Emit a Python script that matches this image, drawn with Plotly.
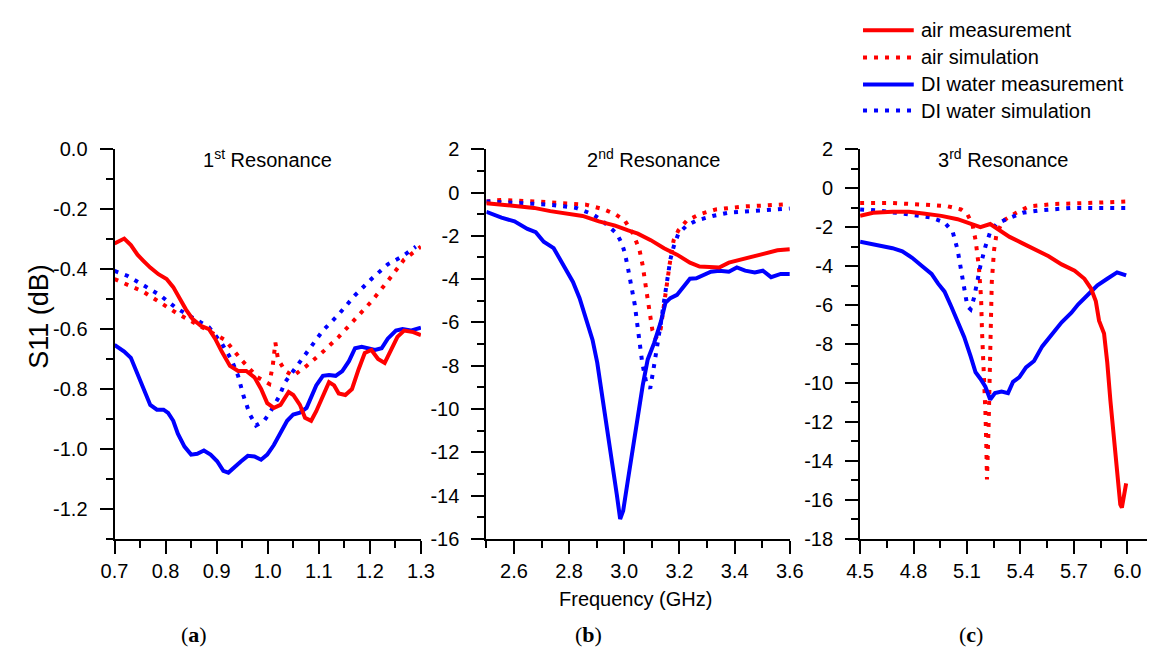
import plotly.graph_objects as go

W, H = 1161, 662
RED = "#ff0000"
BLUE = "#0000ff"
FONT = "Arial, Liberation Sans, sans-serif"

# ---------------- 1st resonance (GHz, dB) ----------------
a_air_meas_x = [0.700, 0.719, 0.732, 0.745, 0.757, 0.770, 0.786, 0.802, 0.815, 0.827,
                0.840, 0.853, 0.869, 0.885, 0.897, 0.910, 0.926, 0.942, 0.958, 0.974,
                0.987, 0.999, 1.012, 1.025, 1.041, 1.050, 1.063, 1.073, 1.085, 1.095,
                1.108, 1.120, 1.130, 1.139, 1.152, 1.165, 1.178, 1.190, 1.203, 1.216,
                1.229, 1.241, 1.254, 1.267, 1.285, 1.300]
a_air_meas_y = [-0.314, -0.298, -0.320, -0.352, -0.373, -0.395, -0.417, -0.433, -0.460, -0.497,
                -0.535, -0.567, -0.589, -0.600, -0.632, -0.675, -0.723, -0.740, -0.740, -0.761,
                -0.800, -0.847, -0.863, -0.853, -0.810, -0.820, -0.853, -0.896, -0.906, -0.874,
                -0.820, -0.777, -0.788, -0.815, -0.820, -0.800, -0.734, -0.680, -0.670, -0.700,
                -0.713, -0.670, -0.626, -0.605, -0.610, -0.620]

a_air_sim_x = [0.700, 0.757, 0.821, 0.885, 0.917, 0.948, 0.980, 1.003, 1.010, 1.015,
               1.020, 1.034, 1.050, 1.076, 1.108, 1.139, 1.171, 1.203, 1.235, 1.267, 1.300]
a_air_sim_y = [-0.433, -0.476, -0.546, -0.605, -0.637, -0.702, -0.761, -0.783, -0.720, -0.645,
               -0.700, -0.740, -0.756, -0.723, -0.676, -0.626, -0.567, -0.508, -0.440, -0.368, -0.325]

a_water_meas_x = [0.700, 0.719, 0.732, 0.741, 0.751, 0.761, 0.770, 0.783, 0.796, 0.805,
                  0.815, 0.824, 0.837, 0.850, 0.862, 0.875, 0.888, 0.901, 0.913, 0.923,
                  0.936, 0.948, 0.961, 0.974, 0.987, 0.999, 1.012, 1.025, 1.038, 1.050,
                  1.063, 1.076, 1.085, 1.095, 1.108, 1.120, 1.133, 1.146, 1.159, 1.171,
                  1.184, 1.197, 1.210, 1.223, 1.235, 1.251, 1.264, 1.280, 1.300]
a_water_meas_y = [-0.653, -0.675, -0.696, -0.734, -0.777, -0.820, -0.853, -0.869, -0.869, -0.880,
                  -0.906, -0.949, -0.992, -1.019, -1.016, -1.005, -1.019, -1.041, -1.073, -1.079,
                  -1.057, -1.041, -1.023, -1.025, -1.036, -1.019, -0.987, -0.944, -0.906, -0.885,
                  -0.879, -0.863, -0.831, -0.788, -0.756, -0.753, -0.756, -0.740, -0.707, -0.664,
                  -0.659, -0.664, -0.670, -0.664, -0.632, -0.605, -0.600, -0.605, -0.595]

a_water_sim_x = [0.700, 0.725, 0.757, 0.789, 0.821, 0.853, 0.885, 0.910, 0.929, 0.942,
                 0.952, 0.965, 0.977, 0.993, 1.006, 1.022, 1.034, 1.050, 1.076, 1.108,
                 1.139, 1.171, 1.203, 1.235, 1.264, 1.290]
a_water_sim_y = [-0.406, -0.422, -0.454, -0.487, -0.530, -0.562, -0.594, -0.648, -0.702, -0.756,
                 -0.820, -0.885, -0.922, -0.906, -0.874, -0.826, -0.777, -0.740, -0.680, -0.605,
                 -0.551, -0.487, -0.433, -0.384, -0.357, -0.325]

# ---------------- 2nd resonance ----------------
b_air_meas_x = [2.500, 2.555, 2.614, 2.673, 2.732, 2.791, 2.849, 2.908, 2.967, 3.014,
                3.049, 3.096, 3.144, 3.191, 3.238, 3.273, 3.308, 3.344, 3.379, 3.426,
                3.473, 3.520, 3.555, 3.600]
b_air_meas_y = [-0.49, -0.56, -0.64, -0.71, -0.86, -0.96, -1.08, -1.33, -1.53, -1.75,
                -1.90, -2.20, -2.57, -2.87, -3.24, -3.42, -3.42, -3.46, -3.24, -3.09,
                -2.94, -2.76, -2.67, -2.62]

b_air_sim_x = [2.500, 2.555, 2.673, 2.791, 2.861, 2.926, 2.967, 3.002, 3.032, 3.055,
               3.067, 3.079, 3.091, 3.102, 3.114, 3.132, 3.144, 3.155, 3.167, 3.179,
               3.196, 3.226, 3.273, 3.332, 3.438, 3.520, 3.600]
b_air_sim_y = [-0.41, -0.34, -0.41, -0.49, -0.56, -0.78, -1.00, -1.30, -1.90, -2.64,
               -3.39, -4.43, -5.47, -6.37, -6.74, -6.30, -5.18, -4.13, -3.09, -2.20,
               -1.75, -1.30, -1.00, -0.78, -0.64, -0.59, -0.53]

b_water_meas_x = [2.500, 2.555, 2.602, 2.649, 2.679, 2.708, 2.744, 2.779, 2.814, 2.838,
                  2.861, 2.885, 2.902, 2.920, 2.938, 2.955, 2.973, 2.985, 2.996, 3.014,
                  3.032, 3.049, 3.067, 3.085, 3.108, 3.132, 3.149, 3.167, 3.191, 3.214,
                  3.238, 3.261, 3.285, 3.314, 3.344, 3.379, 3.408, 3.438, 3.473, 3.502,
                  3.532, 3.567, 3.600]
b_water_meas_y = [-0.89, -1.16, -1.33, -1.68, -1.83, -2.27, -2.57, -3.31, -4.13, -4.88,
                  -5.77, -6.81, -7.86, -9.34, -10.83, -12.32, -13.96, -15.08, -14.70, -13.21,
                  -11.73, -10.24, -8.90, -7.71, -6.96, -6.00, -5.10, -4.88, -4.73, -4.36,
                  -3.98, -3.96, -3.84, -3.66, -3.61, -3.66, -3.46, -3.61, -3.69, -3.61,
                  -3.91, -3.76, -3.76]

b_water_sim_x = [2.500, 2.614, 2.732, 2.826, 2.885, 2.920, 2.949, 2.973, 2.991, 3.002,
                 3.014, 3.026, 3.038, 3.047, 3.055, 3.065, 3.079, 3.094, 3.106, 3.118,
                 3.132, 3.144, 3.155, 3.167, 3.179, 3.196, 3.226, 3.261, 3.320, 3.379,
                 3.496, 3.600]
b_water_sim_y = [-0.41, -0.49, -0.56, -0.71, -1.00, -1.30, -1.60, -1.90, -2.35, -2.79,
                 -3.54, -4.28, -5.18, -6.07, -6.96, -7.86, -8.75, -9.05, -8.15, -7.26,
                 -6.07, -5.03, -3.98, -3.09, -2.50, -1.90, -1.53, -1.30, -1.08, -0.93,
                 -0.83, -0.74]

# ---------------- 3rd resonance ----------------
c_air_meas_x = [4.500, 4.573, 4.682, 4.774, 4.865, 4.956, 5.047, 5.120, 5.175, 5.230,
                5.285, 5.339, 5.412, 5.485, 5.558, 5.631, 5.704, 5.759, 5.796, 5.823,
                5.841, 5.869, 5.887, 5.905, 5.923, 5.942, 5.960, 5.969, 5.982, 5.993]
c_air_meas_y = [-1.42, -1.26, -1.21, -1.21, -1.31, -1.42, -1.59, -1.80, -2.00, -1.84,
                -2.17, -2.50, -2.83, -3.16, -3.49, -3.91, -4.24, -4.65, -5.15, -5.81,
                -6.80, -7.46, -8.95, -10.94, -12.76, -14.74, -16.23, -16.40, -15.73, -15.15]

c_air_sim_x = [4.500, 4.682, 4.865, 4.993, 5.066, 5.102, 5.130, 5.148, 5.166, 5.179,
               5.184, 5.193, 5.203, 5.208, 5.212, 5.221, 5.226, 5.230, 5.239, 5.252,
               5.266, 5.303, 5.376, 5.449, 5.595, 5.777, 6.000]
c_air_sim_y = [-0.76, -0.76, -0.85, -0.93, -1.09, -1.34, -1.84, -2.67, -3.99, -5.64,
               -7.30, -8.95, -11.43, -13.09, -14.95, -12.26, -9.78, -7.30, -4.82, -3.16,
               -2.33, -1.67, -1.26, -0.93, -0.81, -0.76, -0.68]

c_water_meas_x = [4.500, 4.591, 4.682, 4.737, 4.792, 4.847, 4.901, 4.938, 4.974, 5.011,
                  5.047, 5.084, 5.120, 5.148, 5.175, 5.203, 5.230, 5.257, 5.294, 5.330,
                  5.358, 5.394, 5.431, 5.476, 5.522, 5.577, 5.631, 5.686, 5.723, 5.777,
                  5.832, 5.887, 5.942, 5.993]
c_water_meas_y = [-2.75, -2.91, -3.08, -3.24, -3.57, -3.99, -4.40, -4.90, -5.31, -6.06,
                  -6.80, -7.63, -8.62, -9.45, -9.78, -10.19, -10.85, -10.52, -10.44, -10.52,
                  -9.94, -9.70, -9.20, -8.87, -8.12, -7.46, -6.88, -6.39, -5.97, -5.48,
                  -4.98, -4.65, -4.32, -4.48]

c_water_sim_x = [4.500, 4.591, 4.774, 4.901, 4.974, 5.020, 5.047, 5.066, 5.084, 5.102,
                 5.120, 5.139, 5.157, 5.175, 5.203, 5.230, 5.266, 5.321, 5.412, 5.504,
                 5.686, 6.000]
c_water_sim_y = [-1.09, -1.14, -1.34, -1.51, -1.76, -2.25, -3.16, -4.15, -5.15, -6.06,
                 -6.22, -5.64, -4.82, -3.99, -3.00, -2.25, -1.84, -1.59, -1.26, -1.14,
                 -1.01, -1.01]

# ---------------- axis ticks ----------------
a_xticks = [0.7, 0.8, 0.9, 1.0, 1.1, 1.2, 1.3]
a_yticks = [0.0, -0.2, -0.4, -0.6, -0.8, -1.0, -1.2]
b_xticks = [2.6, 2.8, 3.0, 3.2, 3.4, 3.6]
b_yticks = [2, 0, -2, -4, -6, -8, -10, -12, -14, -16]
c_xticks = [4.5, 4.8, 5.1, 5.4, 5.7, 6.0]
c_yticks = [2, 0, -2, -4, -6, -8, -10, -12, -14, -16, -18]

legend_labels = ["air measurement", "air simulation",
                 "DI water measurement", "DI water simulation"]
panel_titles = ["1<sup>st</sup> Resonance", "2<sup>nd</sup> Resonance", "3<sup>rd</sup> Resonance"]
panel_tags = ["(<b>a</b>)", "(<b>b</b>)", "(<b>c</b>)"]


def px_x(p):
    return p / W


def px_y(p):
    return 1 - p / H


SOLID = dict(width=4)
DOT = dict(width=4, dash="4px,7px")

fig = go.Figure()

panels = [
    ("x", "y", a_air_meas_x, a_air_meas_y, a_air_sim_x, a_air_sim_y,
     a_water_meas_x, a_water_meas_y, a_water_sim_x, a_water_sim_y),
    ("x2", "y2", b_air_meas_x, b_air_meas_y, b_air_sim_x, b_air_sim_y,
     b_water_meas_x, b_water_meas_y, b_water_sim_x, b_water_sim_y),
    ("x3", "y3", c_air_meas_x, c_air_meas_y, c_air_sim_x, c_air_sim_y,
     c_water_meas_x, c_water_meas_y, c_water_sim_x, c_water_sim_y),
]

for xa, ya, amx, amy, asx, asy, wmx, wmy, wsx, wsy in panels:
    fig.add_trace(go.Scatter(x=asx, y=asy, mode="lines", xaxis=xa, yaxis=ya,
                             line=dict(color=RED, **DOT), showlegend=False))
    fig.add_trace(go.Scatter(x=wsx, y=wsy, mode="lines", xaxis=xa, yaxis=ya,
                             line=dict(color=BLUE, **DOT), showlegend=False))
    fig.add_trace(go.Scatter(x=wmx, y=wmy, mode="lines", xaxis=xa, yaxis=ya,
                             line=dict(color=BLUE, **SOLID), showlegend=False))
    fig.add_trace(go.Scatter(x=amx, y=amy, mode="lines", xaxis=xa, yaxis=ya,
                             line=dict(color=RED, **SOLID), showlegend=False))

ydom = [px_y(546), px_y(143)]
tickfont = dict(family=FONT, size=20, color="black")


def axis_common():
    return dict(showline=True, linecolor="black", linewidth=2, mirror=False,
                showgrid=False, zeroline=False, ticks="outside", ticklen=13,
                tickwidth=2, tickcolor="black", tickfont=tickfont)


def minor_ticks(tick0, dtick):
    return dict(tickmode="linear", tick0=tick0, dtick=dtick, ticks="outside",
                ticklen=7, tickwidth=2, tickcolor="black")


def fmt(v, nd):
    return f"{v:.{nd}f}"


fig.update_layout(
    width=W, height=H, margin=dict(l=0, r=0, t=0, b=0),
    paper_bgcolor="white", plot_bgcolor="white", showlegend=False,
    xaxis=dict(domain=[px_x(103), px_x(417)], range=[0.7, 1.3], anchor="y",
               tickmode="array", tickvals=a_xticks, ticktext=[fmt(v, 1) for v in a_xticks],
               minor=minor_ticks(0.75, 0.1), **axis_common()),
    yaxis=dict(domain=ydom, range=[-1.3, 0.0], anchor="x",
               tickmode="array", tickvals=a_yticks, ticktext=[fmt(v, 1) for v in a_yticks],
               minor=minor_ticks(-0.1, 0.2), ticklabelstandoff=8, **axis_common()),
    xaxis2=dict(domain=[px_x(484), px_x(795)], range=[2.5, 3.6], anchor="y2",
                tickmode="array", tickvals=b_xticks, ticktext=[fmt(v, 1) for v in b_xticks],
                minor=minor_ticks(2.5, 0.2), **axis_common()),
    yaxis2=dict(domain=ydom, range=[-16, 2], anchor="x2",
                tickmode="array", tickvals=b_yticks, ticktext=[str(v) for v in b_yticks],
                minor=minor_ticks(1, 2), ticklabelstandoff=8, **axis_common()),
    xaxis3=dict(domain=[px_x(867), 1.0], range=[4.5, 6.11], anchor="y3",
                tickmode="array", tickvals=c_xticks, ticktext=[fmt(v, 1) for v in c_xticks],
                minor=minor_ticks(4.65, 0.3), **axis_common()),
    yaxis3=dict(domain=ydom, range=[-18, 2], anchor="x3",
                tickmode="array", tickvals=c_yticks, ticktext=[str(v) for v in c_yticks],
                minor=minor_ticks(1, 2), ticklabelstandoff=8, **axis_common()),
)

annotations = []
for title, cx in zip(panel_titles, [260, 655, 1013]):
    annotations.append(dict(text=title, x=px_x(cx), y=px_y(153), xref="paper", yref="paper",
                            showarrow=False, xanchor="center", yanchor="middle",
                            font=dict(family=FONT, size=20, color="black")))
for tag, cx in zip(panel_tags, [184, 589, 981]):
    annotations.append(dict(text=tag, x=px_x(cx), y=px_y(645), xref="paper", yref="paper",
                            showarrow=False, xanchor="center", yanchor="middle",
                            font=dict(family="Times New Roman, Liberation Serif, serif",
                                      size=22, color="black")))
annotations.append(dict(text="S11 (dB)", x=px_x(26), y=px_y(316), xref="paper", yref="paper",
                        showarrow=False, textangle=-90, xanchor="center", yanchor="middle",
                        font=dict(family=FONT, size=27, color="black")))
annotations.append(dict(text="Frequency (GHz)", x=px_x(637), y=px_y(608), xref="paper",
                        yref="paper", showarrow=False, xanchor="center", yanchor="middle",
                        font=dict(family=FONT, size=20, color="black")))

# legend block in the top-right corner
legend_colors = [RED, RED, BLUE, BLUE]
legend_dash = ["solid", "4px,7px", "solid", "4px,7px"]
legend_rows = [20, 48, 76, 103]
shapes = []
for lab, col, dsh, ry in zip(legend_labels, legend_colors, legend_dash, legend_rows):
    shapes.append(dict(type="line", xref="paper", yref="paper",
                       x0=px_x(870), x1=px_x(922), y0=px_y(ry), y1=px_y(ry),
                       line=dict(color=col, width=4, dash=dsh)))
    annotations.append(dict(text=lab, x=px_x(927), y=px_y(ry), xref="paper", yref="paper",
                            showarrow=False, xanchor="left", yanchor="middle",
                            font=dict(family=FONT, size=20, color="black")))

fig.update_layout(annotations=annotations, shapes=shapes)

# page body without default margin so the figure fills the window exactly
fig.write_html("out.html",
               post_script="document.body.style.margin='0px';document.body.style.overflow='hidden';")
